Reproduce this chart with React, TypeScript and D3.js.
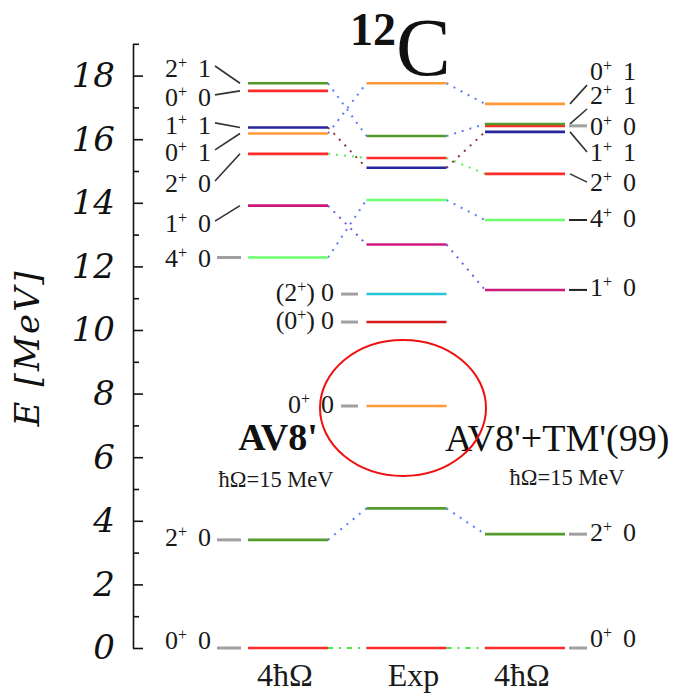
import { useEffect, useRef } from 'react'
import * as d3 from 'd3'

// energies in MeV, ordered bottom to top
const av8Energies = [0, 3.4, 12.28, 13.91, 15.54, 16.18, 16.37, 17.52, 17.76]
const av8J = ['0', '2', '4', '1', '2', '0', '1', '0', '2']
const av8T = [0, 0, 0, 0, 0, 1, 1, 0, 1]

const expEnergies = [0, 4.39, 7.61, 10.25, 11.13, 12.69, 14.09, 15.1, 15.41, 16.1, 17.76]
const expLabelIdx = [2, 3, 4]
const expLabelJ = ['0', '0', '2']
const expLabelParen = [false, true, true]

const tmEnergies = [0, 3.58, 11.26, 13.46, 14.91, 16.23, 16.42, 16.48, 17.11]
const tmJ = ['0', '2', '1', '4', '2', '1', '0', '2', '0']
const tmT = [0, 0, 0, 0, 0, 1, 0, 1, 1]

// which level goes to which
const av8ToExp = [[0, 0], [1, 1], [2, 6], [3, 5], [4, 8], [5, 10], [6, 7], [8, 9]]
const expToTm = [[0, 0], [1, 1], [5, 2], [6, 3], [8, 4], [7, 5], [9, 7], [10, 8]]
const av8ToExpKind = ['gs', 'blue', 'blue', 'purple', 'green', 'blue', 'brown', 'blue']
const expToTmKind = ['gs', 'blue', 'purple', 'blue', 'green', 'brown', 'blue', 'blue']

const columns = ['av8', 'exp', 'tm']
const columnNames = ['4ħΩ', 'Exp', '4ħΩ']

// styles / layout
const C = {
  red: '#ff2b2b',
  olive: '#559a2c',
  navy: '#26269a',
  orange: '#ff9a36',
  magenta: '#cc1a7c',
  lgreen: '#6cff6c',
  cyan: '#22c6d6',
  dred: '#d41a1a',
}
const av8Colors = [C.red, C.olive, C.lgreen, C.magenta, C.red, C.orange, C.navy, C.red, C.olive]
const expColors = [C.red, C.olive, C.orange, C.dred, C.cyan, C.magenta, C.lgreen, C.navy, C.red, C.olive, C.orange]
const tmColors = [C.red, C.olive, C.magenta, C.lgreen, C.red, C.navy, C.red, C.olive, C.orange]
const av8LabelE = [0.25, 3.49, 12.26, 13.36, 14.62, 15.6, 16.45, 17.33, 18.24]
const tmLabelE = [0.31, 3.65, 11.35, 13.52, 14.65, 15.6, 16.42, 17.39, 18.14]
const av8Leader = ['dash', 'dash', 'dash', 'slant', 'slant', 'slant', 'slant', 'slant', 'slant']
const tmLeader = ['dash', 'dash', 'black', 'black', 'slant', 'slant', 'dash', 'slant', 'slant']
const linkStyle: Record<string, { color: string; dash: string }> = {
  gs: { color: '#44e844', dash: '5,6,2,6' },
  blue: { color: '#5a7dff', dash: '2,6' },
  purple: { color: '#7a5ae0', dash: '2,6' },
  green: { color: '#55ee55', dash: '2,6' },
  brown: { color: '#8a3a3a', dash: '2,6' },
}

const W = 684
const H = 696
const serif = '"Liberation Serif", "Times New Roman", serif'

const y = d3.scaleLinear().domain([0, 19]).range([648, 43.8])
const x = d3.scaleBand<string>().domain(columns).range([248, 565]).paddingInner(0.325).paddingOuter(0)

const Label = ({ j, t, paren, ...rest }: any) => (
  <text fontFamily={serif} fontSize={26} fill="#1a1a1a" {...rest}>
    {paren ? '(' : ''}
    {j}
    <tspan dy={-9} fontSize={16}>+</tspan>
    {paren ? <tspan dy={9}>)</tspan> : null}
    <tspan dy={paren ? 0 : 9} dx={paren ? 6 : 11}>{t}</tspan>
  </text>
)

const App = () => {
  const axisRef = useRef<SVGGElement>(null)

  useEffect(() => {
    const g = d3.select(axisRef.current)
    g.selectAll('*').remove()
    const major = d3
      .axisLeft(y)
      .tickValues(d3.range(0, 19, 2))
      .tickSize(-10)
      .tickSizeOuter(0)
      .tickPadding(18)
      .tickFormat(d3.format('d'))
    const minor = d3
      .axisLeft(y)
      .tickValues(d3.range(1, 20, 2))
      .tickSize(-6)
      .tickSizeOuter(0)
      .tickFormat(() => '')
    const gMaj = g.append('g').call(major)
    const gMin = g.append('g').call(minor)
    gMin.select('.domain').remove()
    g.selectAll('line, path').attr('stroke', '#111').attr('stroke-width', 1.6)
    gMaj
      .selectAll('text')
      .attr('font-family', '"DejaVu Serif", serif')
      .attr('font-style', 'italic')
      .attr('font-size', 34)
      .attr('fill', '#111')
  }, [])

  const xa = x('av8')!
  const xe = x('exp')!
  const xt = x('tm')!
  const bw = x.bandwidth()

  const links = (
    pairs: number[][],
    kinds: string[],
    fromE: number[],
    toE: number[],
    x1: number,
    x2: number,
    key: string,
  ) =>
    pairs.map(([a, b], i) => {
      const s = linkStyle[kinds[i]]
      return (
        <line
          key={key + i}
          x1={x1}
          y1={y(fromE[a])}
          x2={x2}
          y2={y(toE[b])}
          stroke={s.color}
          strokeWidth={2}
          strokeDasharray={s.dash}
        />
      )
    })

  const levels = (energies: number[], colors: string[], x0: number, key: string) =>
    energies.map((e, i) => (
      <line key={key + i} x1={x0} x2={x0 + bw} y1={y(e)} y2={y(e)} stroke={colors[i]} strokeWidth={2.6} />
    ))

  return (
    <svg width={W} height={H} style={{ position: 'absolute', left: 0, top: 0, background: '#fff' }}>
      <g ref={axisRef} transform="translate(133,0)" />
      <text
        transform={`translate(39,${y(9.4)}) rotate(-90)`}
        textAnchor="middle"
        fontFamily='"DejaVu Serif", serif'
        fontStyle="italic"
        fontSize={34}
        fill="#111"
        textLength={155}
      >
        E [MeV]
      </text>

      <text x={350} y={45} fontFamily={serif} fontWeight="bold" fontSize={46} fill="#111">12</text>
      <text x={396} y={75} fontFamily={serif} fontSize={82} fill="#111">C</text>

      {links(av8ToExp, av8ToExpKind, av8Energies, expEnergies, xa + bw, xe, 'ae')}
      {links(expToTm, expToTmKind, expEnergies, tmEnergies, xe + bw, xt, 'et')}

      {levels(av8Energies, av8Colors, xa, 'la')}
      {levels(expEnergies, expColors, xe, 'le')}
      {levels(tmEnergies, tmColors, xt, 'lt')}

      {/* AV8' labels */}
      {av8Energies.map((e, i) => {
        const ly = y(av8LabelE[i])
        return (
          <g key={'a' + i}>
            <Label j={av8J[i]} t={av8T[i]} x={211} y={ly + 9} textAnchor="end" />
            {av8Leader[i] === 'dash' ? (
              <line x1={217} x2={241} y1={y(e)} y2={y(e)} stroke="#a0a0a0" strokeWidth={3} />
            ) : (
              <line x1={215} y1={ly - 2} x2={240} y2={y(e)} stroke="#333" strokeWidth={1.6} />
            )}
          </g>
        )
      })}

      {/* Exp labels */}
      {expLabelIdx.map((idx, i) => {
        const ly = y(expEnergies[idx])
        return (
          <g key={'e' + i}>
            <Label j={expLabelJ[i]} t={0} paren={expLabelParen[i]} x={334} y={ly + 7} textAnchor="end" />
            <line x1={341} x2={358} y1={ly} y2={ly} stroke="#a0a0a0" strokeWidth={3} />
          </g>
        )
      })}

      {/* TM labels */}
      {tmEnergies.map((e, i) => {
        const ly = y(tmLabelE[i])
        const ey = y(e)
        const kind = tmLeader[i]
        return (
          <g key={'t' + i}>
            <Label j={tmJ[i]} t={tmT[i]} x={590} y={ly + 9} />
            {kind === 'slant' ? (
              <line x1={570} y1={ey} x2={587} y2={ly + Math.min(Math.max(ey - ly, 0), 14)} stroke="#333" strokeWidth={1.6} />
            ) : (
              <line
                x1={569}
                x2={587}
                y1={ey}
                y2={ey}
                stroke={kind === 'dash' ? '#a0a0a0' : '#222'}
                strokeWidth={kind === 'dash' ? 3 : 2}
              />
            )}
          </g>
        )
      })}

      {/* model names */}
      <text x={278} y={450} textAnchor="middle" fontFamily={serif} fontWeight="bold" fontSize={38} fill="#111">
        AV8'
      </text>
      <text x={276} y={487} textAnchor="middle" fontFamily={serif} fontSize={22.5} fill="#1a1a1a">
        ħΩ=15 MeV
      </text>
      <text x={445} y={451} fontFamily={serif} fontSize={38} fill="#111">
        AV8'+TM'(99)
      </text>
      <text x={567} y={485} textAnchor="middle" fontFamily={serif} fontSize={22.5} fill="#1a1a1a">
        ħΩ=15 MeV
      </text>

      {columns.map((c, i) => (
        <text
          key={c}
          x={x(c)! + bw / 2 + (i === 1 ? 7 : -3)}
          y={686}
          textAnchor="middle"
          fontFamily={serif}
          fontSize={32}
          fill="#1a1a1a"
        >
          {columnNames[i]}
        </text>
      ))}

      <ellipse cx={403} cy={408} rx={83} ry={68} fill="none" stroke="#ee1111" strokeWidth={2} />
    </svg>
  )
}

export default App
